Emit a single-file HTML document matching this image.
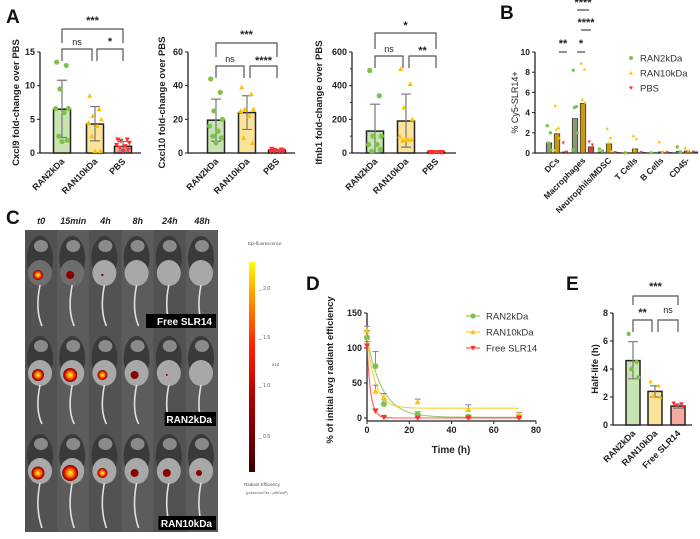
<!DOCTYPE html>
<html><head><meta charset="utf-8">
<style>
html,body{margin:0;padding:0;background:#fff;}
body{width:700px;height:534px;overflow:hidden;position:relative;font-family:"Liberation Sans",Arial,sans-serif;}
svg text{font-family:"Liberation Sans",Arial,sans-serif;}
</style></head>
<body>
<svg id="fig" width="700" height="534" viewBox="0 0 700 534" xmlns="http://www.w3.org/2000/svg">
<defs>
<radialGradient id="blob"><stop offset="0" stop-color="#ffff40"/><stop offset="0.4" stop-color="#ff8a00"/><stop offset="0.75" stop-color="#e01000"/><stop offset="1" stop-color="#700000"/></radialGradient>
<linearGradient id="cbar" x1="0" y1="1" x2="0" y2="0"><stop offset="0" stop-color="#3a0000"/><stop offset="0.35" stop-color="#b00000"/><stop offset="0.6" stop-color="#ff2000"/><stop offset="0.85" stop-color="#ffa000"/><stop offset="1" stop-color="#ffff00"/></linearGradient>
</defs>
<g id="root"></g>
</svg>
<script>
// ---------- Panel A data ----------
const aGroups = ["RAN2kDa","RAN10kDa","PBS"];
const cxcl9Means = [6.5, 4.3, 1.0];
const cxcl9Lo = [2.3, 1.8, 0.3];
const cxcl9Hi = [10.8, 6.9, 1.7];
const cxcl9Pts = [[13.5,13,9.5,6.6,6.6,6.0,2.5,1.9,1.7],[8.5,6.5,5.5,5,4.5,4,2.5,0.3,0.3],[2,2,1.8,1.5,1.2,1,0.8,0.5,0.3]];
const cxcl9Ticks = [0,5,10,15];
const cxcl10Means = [19.5, 24, 1.5];
const cxcl10Lo = [7, 14, 1];
const cxcl10Hi = [32, 34, 2];
const cxcl10Pts = [[44,36,25,20,16,13,10,9,6],[39,35,26,26,25,22,9,6],[2.5,2,1.8,1.5,1.2,1,1,0.8]];
const cxcl10Ticks = [0,20,40,60];
const ifnb1Means = [130, 190, 5];
const ifnb1Lo = [0, 35, 2];
const ifnb1Hi = [290, 350, 8];
const ifnb1Pts = [[490,340,100,100,50,50,10,20],[500,410,270,200,100,80,75,80,80],[5,5,5,5,5,5,5,5]];
const ifnb1Ticks = [0,200,400,600];
// ---------- Panel B data ----------
const bCats = ["DCs","Macrophages","Neutrophils/MDSC","T Cells","B Cells","CD45-"];
const bSeries = ["RAN2kDa","RAN10kDa","PBS"];
const bGreen = [1.0,3.4,0.1,0.02,0.02,0.15];
const bYellow = [1.9,4.9,0.9,0.4,0.1,0.2];
const bRed = [0.1,0.6,0.05,0.05,0.05,0.1];
const bGreenPts = [[2.7,2,1,0.3],[8.2,4.6,4.5,2,0.3],[0.4,0.2],[0.02],[0.02],[0.6,0.1]];
const bYellowPts = [[4.7,2.5,2.3,1.5,0.3],[8.9,8.3,5.3,5],[2.4,1.5,1,0.2],[1.7,1.4,0.3],[1.1,0.1],[0.5,0.2]];
const bRedPts = [[1.0,0.1],[1.1,0.8,0.3],[0.05],[0.05],[0.05],[0.1]];
const bTicks = [0,2,4,6,8,10];
// ---------- Panel D data ----------
const dTimes = [0,4,8,24,48,72];
const dGreen = [115,74,20,5,2,2];
const dGreenErr = [10,21,6,4,2,2];
const dYellow = [125,38,29,23,12,5];
const dYellowErr = [6,9,6,4,7,3];
const dRed = [103,10,1,0,0,0];
const dRedErr = [6,3,1,1,1,1];
const dPlateau = [1,14,0];
const dSpan = [114,100,103];
const dRate = [0.14,0.25,0.58];
const dXTicks = [0,20,40,60,80];
const dYTicks = [0,50,100,150];
// ---------- Panel E data ----------
const eGroups = ["RAN2kDa","RAN10kDa","Free SLR14"];
const eMeans = [4.6,2.4,1.35];
const eLo = [3.3,2.0,1.2];
const eHi = [5.95,2.8,1.5];
const ePts = [[6.5,4.5,4.0,3.4],[3.1,2.8,2.1,2.0],[1.55,1.5,1.4,1.3]];
const eTicks = [0,2,4,6,8];

const NS="http://www.w3.org/2000/svg";
const root=document.getElementById('root');
function add(tag,attrs,parent){const e=document.createElementNS(NS,tag);for(const k in attrs)e.setAttribute(k,attrs[k]);(parent||root).appendChild(e);return e;}
function txt(x,y,s,size,attrs){const e=add('text',Object.assign({x:x,y:y,'font-size':size},attrs||{}));e.textContent=s;return e;}
const GREEN='#7cc34a',YEL='#ffc000',RED='#ff3030';
const FILLS=['#c8e4b0','#fbe49a','#f7aaa0'];
const JIT=[-5,4,-2,6,-6,2,-3,5,0,-4];
function marker(x,y,k,r,name){
  let e;
  if(k===0){e=add('circle',{cx:x,cy:y,r:r,fill:GREEN});}
  else if(k===1){e=add('path',{d:`M${x} ${y-r} L${x+r} ${y+r*0.8} L${x-r} ${y+r*0.8} Z`,fill:YEL});}
  else {e=add('path',{d:`M${x} ${y+r} L${x+r} ${y-r*0.8} L${x-r} ${y-r*0.8} Z`,fill:RED});}
  
  
  return e;
}
function bracket(x1,x2,y,drop,label,ly){
  const p=add('path',{d:`M${x1} ${y+drop} V${y} H${x2} V${y+drop}`,fill:'none',stroke:'#555','stroke-width':1.2});
  
  
  const t=txt((x1+x2)/2,ly,label,label==='ns'?9:11,{'text-anchor':'middle','font-weight':label==='ns'?'normal':'bold',fill:'#222'});
  
  
}
function barPanel(c){
  const ys=v=>c.y0-(v/c.max)*(c.y0-c.y1);
  const ax=add('path',{d:`M${c.ax} ${c.y1} V${c.y0} H${c.axEnd}`,fill:'none',stroke:'#222','stroke-width':1.3});
  
  
  for(const t of c.ticks){
    const l=add('line',{x1:c.ax-3,x2:c.ax,y1:ys(t),y2:ys(t),stroke:'#222'});
    
    
    const tl=txt(c.ax-5,ys(t)+3,String(t),9,{'text-anchor':'end','font-weight':'bold',fill:'#222'});
    
    
  }
  if(c.minor){for(const t of c.minor){const l=add('line',{x1:c.ax-2,x2:c.ax,y1:ys(t),y2:ys(t),stroke:'#222'});}}
  const yl=txt(0,0,c.ylabel,c.ylSize||9.5,{'text-anchor':'middle','font-weight':'bold',fill:'#222',transform:`translate(${c.ylx},${(c.y0+c.y1)/2}) rotate(-90)`});
  
  
  c.means.forEach((m,i)=>{
    const cx=c.xs[i],w=c.bw;
    const b=add('rect',{x:cx-w/2,y:ys(m),width:w,height:c.y0-ys(m),fill:FILLS[i],stroke:'#222','stroke-width':1.5});
    
    
    const eb=add('path',{d:`M${cx} ${ys(c.lo[i])} V${ys(c.hi[i])} M${cx-5} ${ys(c.hi[i])} H${cx+5} M${cx-5} ${ys(c.lo[i])} H${cx+5}`,stroke:'#777','stroke-width':1.2,fill:'none'});
    
    
    c.pts[i].forEach((v,j)=>marker(cx+JIT[j%10]*c.bw/16,ys(v),i,c.pr||2.6,'data-point'));
    const xl=txt(0,0,c.groups[i],9,{'text-anchor':'end','font-weight':'bold',fill:'#222',transform:`translate(${cx+3},${c.y0+9}) rotate(-45)`});
    
    
  });
}
// Panel letters
[['A',6,23],['B',500,19],['C',6,224],['D',306,290],['E',566,290]].forEach(([s,x,y])=>{const t=txt(x,y,s,19,{'font-weight':'bold',fill:'#111'});});

barPanel({ax:40,axEnd:141,y0:153,y1:52,max:15,ticks:cxcl9Ticks,xs:[62,95,123],bw:17,means:cxcl9Means,lo:cxcl9Lo,hi:cxcl9Hi,pts:cxcl9Pts,groups:aGroups,ylabel:'Cxcl9 fold-change over PBS',ylx:19});
bracket(62,123,29,14,'***',24);bracket(62,92,49,12,'ns',45);bracket(97,123,49,12,'*',45);
barPanel({ax:188,axEnd:295,y0:153,y1:52,max:60,ticks:cxcl10Ticks,xs:[216,247,277],bw:17,means:cxcl10Means,lo:cxcl10Lo,hi:cxcl10Hi,pts:cxcl10Pts,groups:aGroups,ylabel:'Cxcl10 fold-change over PBS',ylx:165});
bracket(216,277,43,14,'***',38);bracket(216,244,66,12,'ns',62);bracket(250,277,66,12,'****',64);
barPanel({ax:352,axEnd:456,y0:153,y1:52,max:600,ticks:ifnb1Ticks,minor:[100,300,500],xs:[375,406,436],bw:17,means:ifnb1Means,lo:ifnb1Lo,hi:ifnb1Hi,pts:ifnb1Pts,groups:aGroups,ylabel:'Ifnb1 fold-change over PBS',ylx:322});
bracket(375,436,33,16,'*',29);bracket(375,403,56,12,'ns',52);bracket(409,436,56,12,'**',54);

// Panel B
(function(){
  const ax=535,axEnd=698,y0=153,y1=52,max=10;
  const ys=v=>y0-(v/max)*(y0-y1);
  const gx=i=>557+i*26;
  const a=add('path',{d:`M${ax} ${y1} V${y0} H${axEnd}`,fill:'none',stroke:'#222','stroke-width':1.3});
  
  
  bTicks.forEach(t=>{
    const l=add('line',{x1:ax-3,x2:ax,y1:ys(t),y2:ys(t),stroke:'#222'});
    
    
    const tl=txt(ax-5,ys(t)+3,String(t),8.5,{'text-anchor':'end','font-weight':'bold',fill:'#222'});
    
    
  });
  const yl=txt(0,0,'% Cy5-SLR14+',9,{'text-anchor':'middle',fill:'#222',transform:`translate(${ax-17},${(y0+y1)/2}) rotate(-90)`});
  
  
  const ser=[bGreen,bYellow,bRed],sp=[bGreenPts,bYellowPts,bRedPts];
  bCats.forEach((c,i)=>{
    ser.forEach((s,k)=>{
      const cx=gx(i)+(k-1)*8;
      const b=add('rect',{x:cx-2.7,y:ys(s[i]),width:5.4,height:y0-ys(s[i]),fill:k===1?'#c89a10':k===0?'#8a9a70':'#c05050',stroke:'#333','stroke-width':0.8});
      
      
      sp[k][i].forEach((v,j)=>marker(cx+JIT[j%10]*0.35,ys(v),k,1.7,'data-point'));
    });
    const xl=txt(0,0,c,8.5,{'text-anchor':'end','font-weight':'bold',fill:'#222',transform:`translate(${gx(i)+3},${y0+8}) rotate(-45)`});
    
    
  });
  [[0,'RAN2kDa',58],[1,'RAN10kDa',73],[2,'PBS',88]].forEach(([k,s,y])=>{
    marker(631,y,k,2,'legend-marker');
    const t=txt(640,y+3.5,s,9.5,{fill:'#333'});
    
    
  });
  const sig=[[gx(0)+2,gx(0)+10,52,'**',47],[gx(1)-6,gx(1)+2,52,'*',47],[gx(1)-2,gx(1)+8,30,'****',26],[gx(1)-6,gx(1)+6,10,'****',6]];
  sig.forEach(([x1,x2,y,s,ly])=>{
    const l=add('line',{x1:x1,x2:x2,y1:y,y2:y,stroke:'#222'});
    
    
    const t=txt((x1+x2)/2,ly,s,11,{'text-anchor':'middle','font-weight':'bold',fill:'#222'});
    
    
  });
})();

// Panel C: imaging montage
(function(){
  const times=['t0','15min','4h','8h','24h','48h'];
  const x0=25,cw=32.2;
  times.forEach((t,i)=>{const e=txt(x0+cw*i+cw/2,224,t,9,{'text-anchor':'middle','font-weight':'bold','font-style':'italic',fill:'#222'});});
  const bg=add('rect',{x:25,y:230,width:193,height:302,fill:'#555'});
  
  
  const rows=[[230,330,275,[5,4,1.2,0,0,0],'Free SLR14'],[330,428,375,[6,7,5,4,1,0],'RAN2kDa'],[428,532,473,[6.5,8,5,4,4,3],'RAN10kDa']];
  rows.forEach(([top,bot,by,sz,lab],r)=>{
    for(let i=0;i<6;i++){
      const cx=x0+cw*i;
      const g=add('g',{});
      
      
      add('rect',{x:cx,y:top,width:cw-0.5,height:bot-top,fill:i%2?'#5c5c5c':'#525252'},g);
      add('ellipse',{cx:cx+15,cy:top+28,rx:13,ry:22,fill:'#3a3a3a'},g);
      add('ellipse',{cx:cx+16,cy:top+16,rx:7,ry:6,fill:'#8a8a8a'},g);
      add('ellipse',{cx:cx+15,cy:by-2,rx:12,ry:13,fill:r===0&&i<2?'#6e6e6e':'#a8a8a8'},g);
      add('path',{d:`M${cx+15} ${by+10} q-5 25 2 ${bot-by-14}`,stroke:'#e0e0e0','stroke-width':1.6,fill:'none'},g);
      if(sz[i]>0) add('circle',{cx:cx+13,cy:by,r:sz[i],fill:sz[i]>4.5?'url(#blob)':'#8a0000'},g);
    }
    const w=lab.length*6.2+8;
    const box=add('rect',{x:216-w,y:bot-16,width:w,height:14,fill:'#000'});
    
    
    const t=txt(212,bot-5,lab,10,{'text-anchor':'end','font-weight':'bold',fill:'#fff'});
    
    
  });
  const cb=add('rect',{x:249,y:262,width:6,height:210,fill:'url(#cbar)'});
  
  
  [['2.0',288],['1.5',337],['1.0',385],['0.5',436]].forEach(([s,y])=>{const t=txt(259,y+2,'_ '+s,5,{fill:'#555'});});
  [['Epi-fluorescence',248,245],['x10',272,366],['Radiant Efficiency',244,486]].forEach(([s,x,y])=>{const t=txt(x,y,s,4.5,{fill:'#555'});});
  const u=txt(246,494,'(p/sec/cm²/sr / µW/cm²)',4,{fill:'#555'});
  
  
})();

// Panel D
(function(){
  const ax=367,y0=418,y1=313,xEnd=536;
  const xs=t=>ax+t/80*(xEnd-ax), ys=v=>y0-v/150*(y0-y1);
  const a=add('path',{d:`M${ax} ${y1} V${y0+3} M${ax} ${y0+3} H${xEnd}`,fill:'none',stroke:'#222','stroke-width':1.3});
  
  
  dYTicks.forEach(t=>{const l=add('line',{x1:ax-3,x2:ax,y1:ys(t),y2:ys(t),stroke:'#222'});const tl=txt(ax-5,ys(t)+3,String(t),9,{'text-anchor':'end','font-weight':'bold',fill:'#222'});});
  dXTicks.forEach(t=>{const l=add('line',{x1:xs(t),x2:xs(t),y1:y0+3,y2:y0+6,stroke:'#222'});const tl=txt(xs(t),y0+15,String(t),9,{'text-anchor':'middle','font-weight':'bold',fill:'#222'});});
  const xt=txt(451,453,'Time (h)',10,{'text-anchor':'middle','font-weight':'bold',fill:'#222'});
  
  
  const yt=txt(0,0,'% of initial avg radiant efficiency',9.5,{'text-anchor':'middle','font-weight':'bold',fill:'#222',transform:`translate(${333},${370}) rotate(-90)`});
  
  
  const means=[dGreen,dYellow,dRed],errs=[dGreenErr,dYellowErr,dRedErr],cols=[GREEN,YEL,RED],names=['RAN2kDa','RAN10kDa','Free SLR14'];
  [0,1,2].forEach(k=>{
    let d='';
    for(let t=0;t<=72;t+=0.5){const v=dPlateau[k]+dSpan[k]*Math.exp(-dRate[k]*t);d+=(t?'L':'M')+xs(t).toFixed(1)+' '+ys(v).toFixed(1);}
    const c=add('path',{d:d,fill:'none',stroke:cols[k],'stroke-width':1.1,opacity:0.8});
    
    
    dTimes.forEach((t,i)=>{
      const v=means[k][i],e=errs[k][i];
      const eb=add('path',{d:`M${xs(t)} ${ys(v)} V${ys(v+e)} M${xs(t)-3} ${ys(v+e)} H${xs(t)+3}`,stroke:'#888','stroke-width':1,fill:'none'});
      
      
      marker(xs(t),ys(v),k,3,'data-point');
    });
  });
  [[0,316],[1,332],[2,348]].forEach(([k,y])=>{
    const l=add('line',{x1:466,x2:480,y1:y,y2:y,stroke:cols[k]});
    
    
    marker(473,y,k,2.6,'legend-marker');
    const t=txt(486,y+3.5,names[k],9.5,{fill:'#333'});
    
    
  });
})();

// Panel E
barPanel({ax:613,axEnd:692,y0:425,y1:313,max:8,ticks:eTicks,xs:[633,655,678],bw:14,means:eMeans,lo:eLo,hi:eHi,pts:ePts,groups:eGroups,ylabel:'Half-life (h)',ylx:598,pr:2.2});
bracket(633,678,296,9,'***',290);bracket(633,652,320,12,'**',316);bracket(658,678,320,12,'ns',313);
</script>
</body></html>
